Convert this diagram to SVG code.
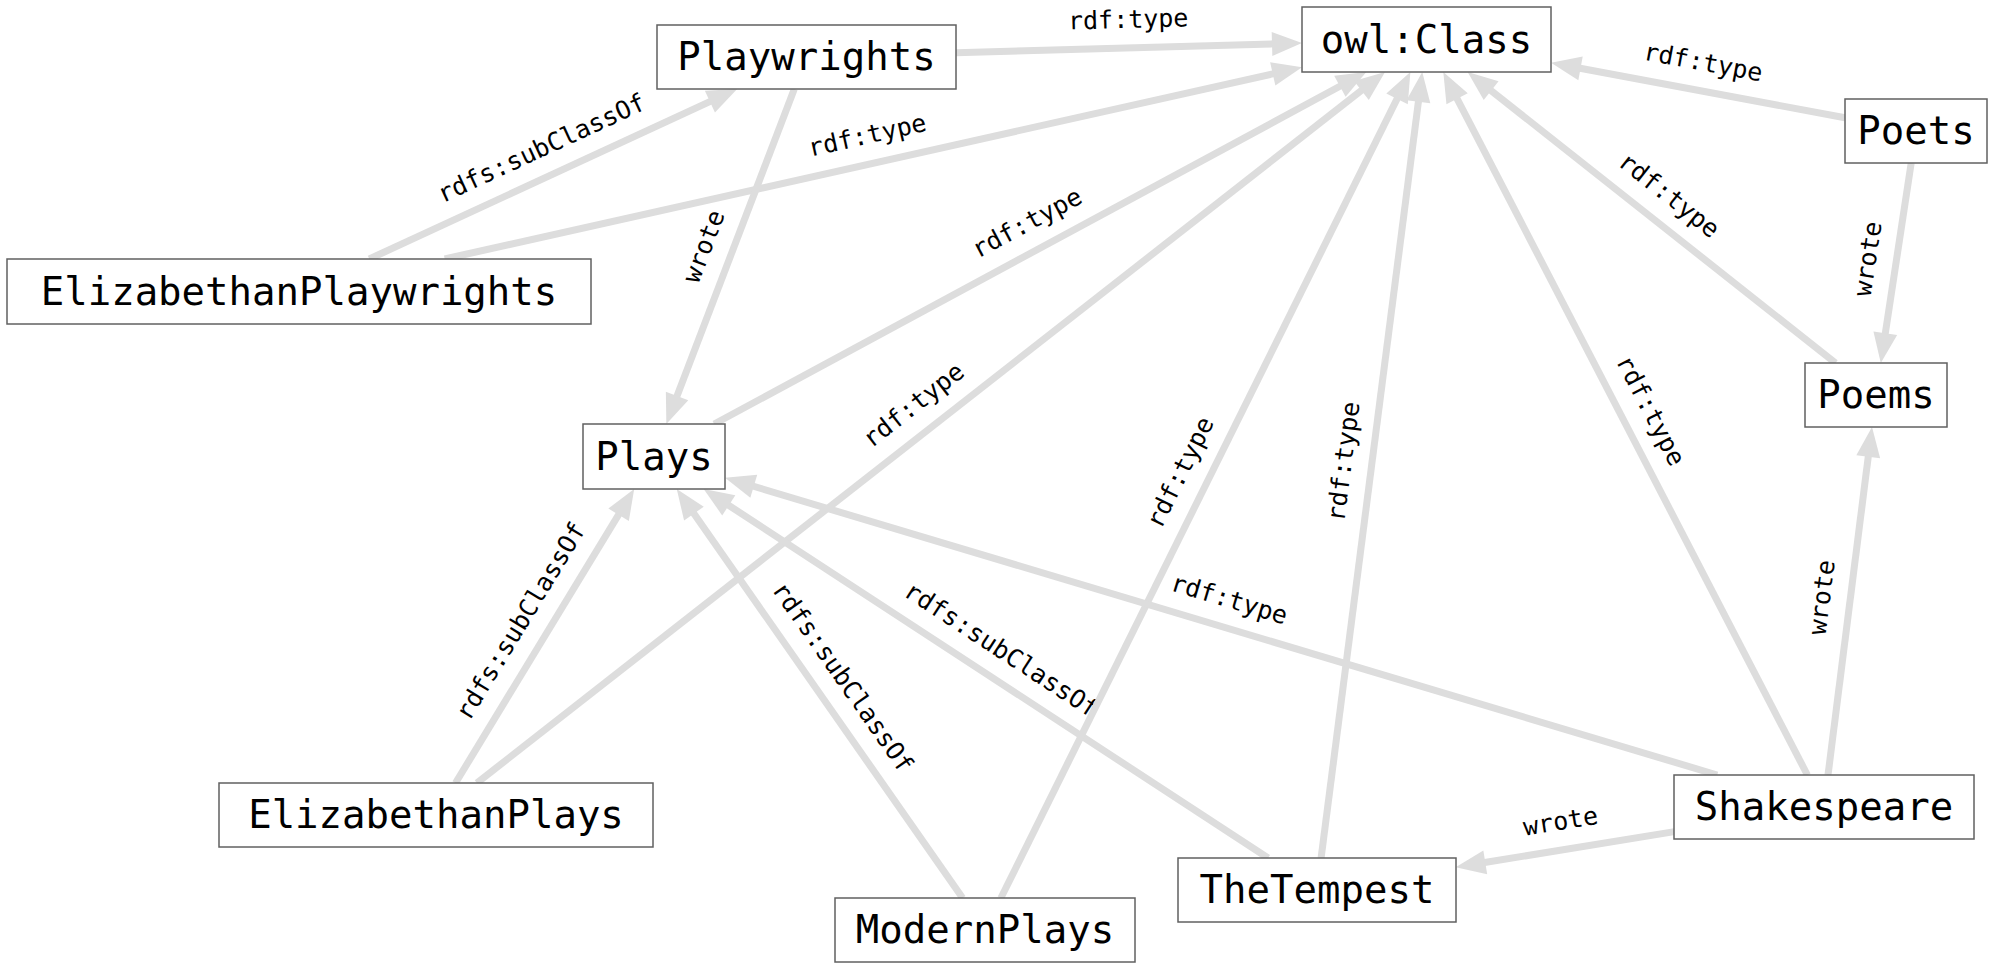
<svg xmlns="http://www.w3.org/2000/svg" width="2000" height="975" viewBox="0 0 2000 975">
<style>
.bg{fill:#ffffff}
.edge path{fill:none;stroke:#dddddd;stroke-width:7;marker-end:url(#arr)}
.edge text{font-family:"DejaVu Sans Mono","Liberation Mono",monospace;font-size:25px;fill:#000;text-anchor:middle}
.node rect{fill:#ffffff;stroke:#606060;stroke-width:1.5}
.node text{font-family:"DejaVu Sans Mono","Liberation Mono",monospace;font-size:39px;fill:#000;text-anchor:middle}
</style>
<defs>
<marker id="arr" markerUnits="userSpaceOnUse" markerWidth="30" markerHeight="24" refX="10" refY="12" orient="auto" overflow="visible">
<path d="M0,0 L30,12 L0,24 z" fill="#dddddd"/>
</marker>
</defs>
<rect class="bg" x="0" y="0" width="2000" height="975"/>
<g id="connectors">
<g class="edge" id="e1"><path d="M956,52.8 L1282,43.6"/><text transform="translate(1129,47.9) rotate(-1.62)" y="-20">rdf:type</text></g>
<g class="edge" id="e2"><path d="M369.3,259 L719,97.4"/><text transform="translate(553.3,174) rotate(-24.8)" y="-20">rdfs:subClassOf</text></g>
<g class="edge" id="e3"><path d="M444.7,259 L1282.5,71.7"/><text transform="translate(873.4,163.1) rotate(-12.6)" y="-20">rdf:type</text></g>
<g class="edge" id="e4"><path d="M794.3,89 L673.5,405.3"/><text transform="translate(730.4,256.5) rotate(-69.1)" y="-20">wrote</text></g>
<g class="edge" id="e5"><path d="M714.2,424 L1348.7,81.5"/><text transform="translate(1040.3,248) rotate(-28.1)" y="-20">rdf:type</text></g>
<g class="edge" id="e6"><path d="M476.9,783 L1369.3,84.3"/><text transform="translate(931,427.5) rotate(-38.06)" y="-20">rdf:type</text></g>
<g class="edge" id="e7"><path d="M455.5,783 L623.8,506.1"/><text transform="translate(544.9,636) rotate(-58.7)" y="-20">rdfs:subClassOf</text></g>
<g class="edge" id="e8"><path d="M962.6,898 L688.2,505.4"/><text transform="translate(819.6,693.5) rotate(55)" y="-20">rdfs:subClassOf</text></g>
<g class="edge" id="e10"><path d="M1268.1,858 L720.4,499.9"/><text transform="translate(985.9,673.5) rotate(33.18)" y="-20">rdfs:subClassOf</text></g>
<g class="edge" id="e9"><path d="M1000.9,898 L1401.5,89.9"/><text transform="translate(1205.6,485) rotate(-63.6)" y="-20">rdf:type</text></g>
<g class="edge" id="e11"><path d="M1321.1,858 L1419.7,91.8"/><text transform="translate(1371.7,465) rotate(-82.66)" y="-20">rdf:type</text></g>
<g class="edge" id="e12"><path d="M1717.2,775 L744.2,483.5"/><text transform="translate(1221.1,626.4) rotate(16.67)" y="-20">rdf:type</text></g>
<g class="edge" id="e13"><path d="M1807.4,775 L1452.5,89.8"/><text transform="translate(1625.4,423.5) rotate(62.6)" y="-20">rdf:type</text></g>
<g class="edge" id="e14"><path d="M1828,775 L1869.5,446.8"/><text transform="translate(1850,601) rotate(-82.8)" y="-20">wrote</text></g>
<g class="edge" id="e15"><path d="M1674.5,831.6 L1475.4,864"/><text transform="translate(1565.1,849.4) rotate(-9.24)" y="-20">wrote</text></g>
<g class="edge" id="e16"><path d="M1845,117.7 L1570.7,66.5"/><text transform="translate(1698,90.2) rotate(10.58)" y="-20">rdf:type</text></g>
<g class="edge" id="e17"><path d="M1911.2,163 L1883.8,343.2"/><text transform="translate(1896,263) rotate(-81.36)" y="-20">wrote</text></g>
<g class="edge" id="e18"><path d="M1835.5,363 L1483.3,84.4"/><text transform="translate(1651.5,217.5) rotate(38.35)" y="-20">rdf:type</text></g>
</g>
<g id="node-owlClass" class="node"><rect x="1302" y="7" width="249" height="65"/><text x="1426.5" y="52.5">owl:Class</text></g>
<g id="node-Playwrights" class="node"><rect x="657" y="25" width="299" height="64"/><text x="806.5" y="70">Playwrights</text></g>
<g id="node-Poets" class="node"><rect x="1845" y="99" width="142" height="64"/><text x="1916" y="144">Poets</text></g>
<g id="node-Poems" class="node"><rect x="1805" y="363" width="142" height="64"/><text x="1876" y="408">Poems</text></g>
<g id="node-ElizabethanPlaywrights" class="node"><rect x="7" y="259" width="584" height="65"/><text x="299" y="304.5">ElizabethanPlaywrights</text></g>
<g id="node-Plays" class="node"><rect x="583" y="424" width="142" height="65"/><text x="654" y="469.5">Plays</text></g>
<g id="node-ElizabethanPlays" class="node"><rect x="219" y="783" width="434" height="64"/><text x="436" y="828">ElizabethanPlays</text></g>
<g id="node-ModernPlays" class="node"><rect x="835" y="898" width="300" height="64"/><text x="985" y="943">ModernPlays</text></g>
<g id="node-TheTempest" class="node"><rect x="1178" y="858" width="278" height="64"/><text x="1317" y="903">TheTempest</text></g>
<g id="node-Shakespeare" class="node"><rect x="1674" y="775" width="300" height="64"/><text x="1824" y="820">Shakespeare</text></g>
</svg>
